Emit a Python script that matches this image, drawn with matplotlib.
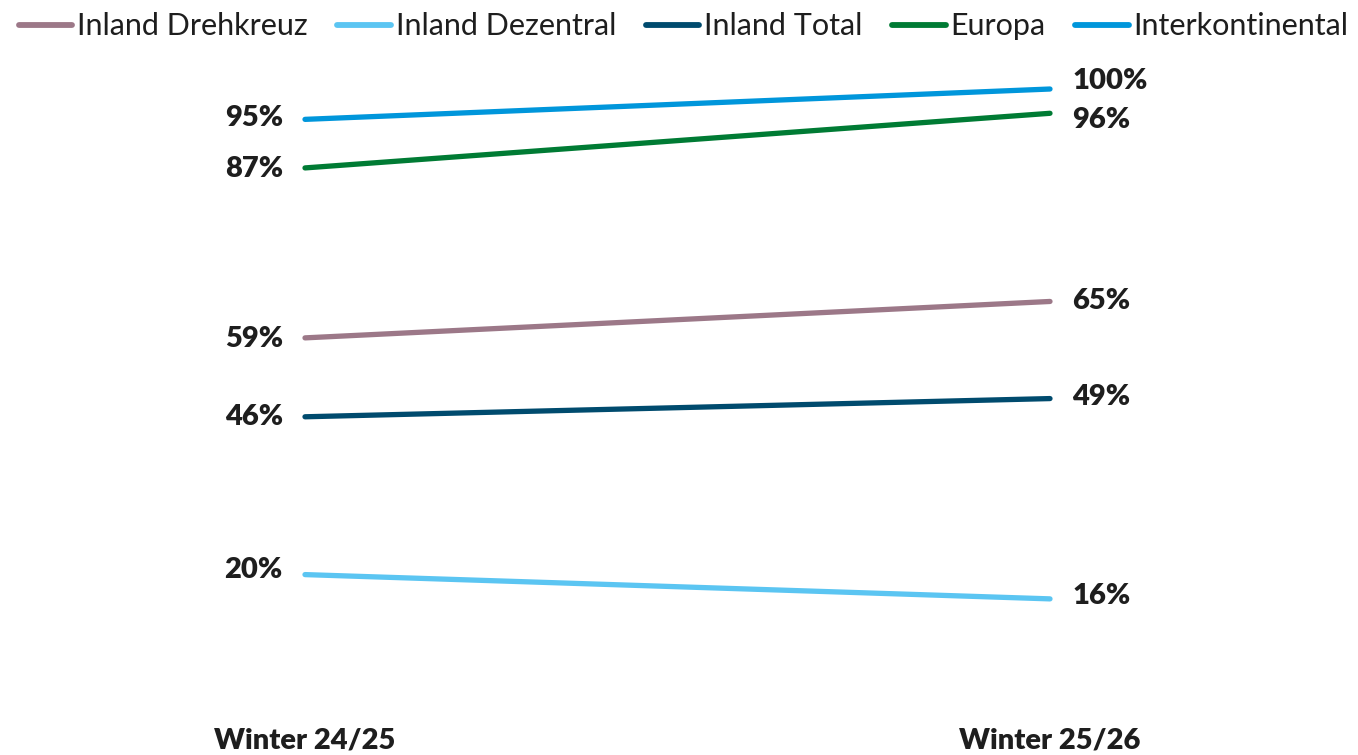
import matplotlib
matplotlib.use("Agg")
import matplotlib.pyplot as plt

periods = ["Winter 24/25", "Winter 25/26"]
series = ["Inland Drehkreuz", "Inland Dezentral", "Inland Total", "Europa", "Interkontinental"]
drehkreuz = [59, 65]
dezentral = [20, 16]
total = [46, 49]
europa = [87, 96]
interkontinental = [95, 100]
colors = ["#9c7888", "#5bc5f2", "#004b6e", "#007b34", "#0096db"]

values = [drehkreuz, dezentral, total, europa, interkontinental]
# small vertical nudges (points) so neighbouring end labels don't collide
end_nudge = [0, 2, 1, -5, 6]
start_nudge = [-1, 3, 0, -1, 1]

W, H = 1358, 755
fig = plt.figure(figsize=(W / 100, H / 100), dpi=100)
left, right, top, bottom = 305, 1050, 60, 700
ax = fig.add_axes([left / W, (H - bottom) / H, (right - left) / W, (bottom - top) / H])
ax.set_xlim(0, 1)
ax.set_ylim(-0.66, 104.78)

FONT = "Lato"
TXT = "#1e1e1e"
xs = list(range(len(periods)))
handles = []
for name, vals, c, n0, n1 in zip(series, values, colors, start_nudge, end_nudge):
    ln, = ax.plot(xs, vals, color=c, lw=3.8, solid_capstyle="round", clip_on=False, label=name)
    handles.append(ln)
    ax.annotate(f"{vals[0]}%", (xs[0], vals[0]), xytext=(-16, n0), textcoords="offset points",
                ha="right", va="center", fontsize=21, fontweight="heavy", color=TXT, family=FONT)
    ax.annotate(f"{vals[1]}%", (xs[1], vals[1]), xytext=(16, n1), textcoords="offset points",
                ha="left", va="center", fontsize=21, fontweight="heavy", color=TXT, family=FONT)

ax.set_xticks(xs)
ax.set_xticklabels(periods, fontsize=21, fontweight="heavy", color=TXT, family=FONT)
ax.tick_params(axis="x", length=0, pad=20)
ax.set_yticks([])
for s in ax.spines.values():
    s.set_visible(False)

leg = fig.legend(handles=handles, labels=series, loc="upper left", bbox_to_anchor=(-0.002, 1.012),
                 ncol=5, frameon=False, prop={"family": FONT, "size": 22},
                 handlelength=1.75, handletextpad=0.16, columnspacing=0.97, borderaxespad=0.3,
                 labelcolor=TXT)
for h in leg.legend_handles:
    h.set_linewidth(4.2)
    h.set_solid_capstyle("round")

fig.savefig("out.png", dpi=100)
